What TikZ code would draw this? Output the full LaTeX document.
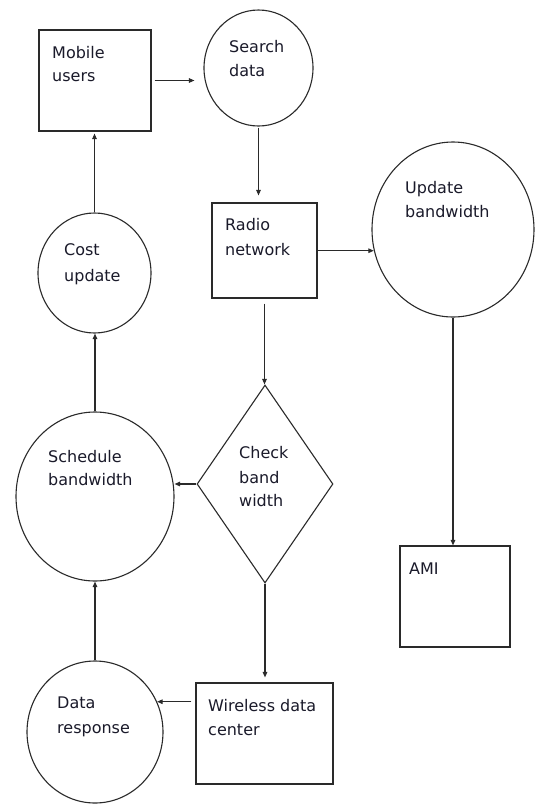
\documentclass[tikz,border=0pt]{standalone}
\usepackage{fontspec}
\setmainfont{DejaVu Sans}
\usetikzlibrary{shapes.geometric,arrows.meta}
\definecolor{ln}{HTML}{2A2A2A}
\definecolor{tx}{HTML}{1A1A2A}
\begin{document}
\begin{tikzpicture}[x=1pt,y=-1pt,
  shp/.style={draw=ln,line width=1.1pt,inner sep=0pt,fill=white},
  boxn/.style={shp,rectangle},
  ell/.style={shp,ellipse},
  dia/.style={shp,diamond},
  lbl/.style={anchor=base west,inner sep=0pt,text=tx,font=\fontsize{16}{24}\selectfont},
  arr/.style={draw=ln,line width=1.1pt,-{Triangle[length=5.5pt,width=4.5pt]}}]
\useasboundingbox[fill=white] (0,0) rectangle (535,804);
% shapes
\node[boxn,minimum width=112pt,minimum height=101pt] (mobile) at (95,80.5) {};
\node[ell,minimum width=109pt,minimum height=116pt] (search) at (258.5,68) {};
\node[boxn,minimum width=105pt,minimum height=95pt] (radio) at (264.5,250.5) {};
\node[ell,minimum width=162pt,minimum height=175pt] (update) at (453,229.5) {};
\node[boxn,minimum width=110pt,minimum height=101pt] (ami) at (455,596.5) {};
\node[dia,minimum width=136pt,minimum height=198pt] (check) at (265,484) {};
\node[ell,minimum width=158pt,minimum height=169pt] (schedule) at (95,496.5) {};
\node[ell,minimum width=113pt,minimum height=120pt] (cost) at (94.5,273) {};
\node[boxn,minimum width=137pt,minimum height=101pt] (wireless) at (264.5,733.5) {};
\node[ell,minimum width=136pt,minimum height=142pt] (data) at (95,732) {};
% labels
\node[lbl] (tmob1) at (52,58) {Mobile};
\node[lbl] (tmob2) at (52,81) {users};
\node[lbl] (tsea1) at (229,52) {Search};
\node[lbl] (tsea2) at (229,76) {data};
\node[lbl] (trad1) at (225,230) {Radio};
\node[lbl] (trad2) at (225,255) {network};
\node[lbl] (tupd1) at (405,193) {Update};
\node[lbl] (tupd2) at (405,217) {bandwidth};
\node[lbl] (tcos1) at (64,255) {Cost};
\node[lbl] (tcos2) at (64,281) {update};
\node[lbl] (tsch1) at (48,462) {Schedule};
\node[lbl] (tsch2) at (48,485) {bandwidth};
\node[lbl] (tchk1) at (239,458) {Check};
\node[lbl] (tchk2) at (239,483) {band};
\node[lbl] (tchk3) at (239,506) {width};
\node[lbl] (tdat1) at (57,708) {Data};
\node[lbl] (tdat2) at (57,733) {response};
\node[lbl] (twir1) at (208,711) {Wireless data};
\node[lbl] (twir2) at (208,735) {center};
\node[lbl] (tami) at (409,574) {AMI};
% connectors
\draw[arr,shorten <=3pt,shorten >=9pt] (mobile.east) -- (mobile.east -| search.west);
\draw[arr,shorten <=1pt,shorten >=7pt] (search.south) -- (search.south |- radio.north);
\draw[arr] (radio.east |- update.195) -- (update.195);
\draw[arr,shorten <=5pt] (radio.south) -- (radio.south |- check.north);
\draw[arr] (check.west) -- (check.west -| schedule.east);
\draw[arr] (schedule.north) -- (schedule.north |- cost.south);
\draw[arr,shorten >=2pt] (cost.north) -- (cost.north |- mobile.south);
\draw[arr,shorten >=5pt] (check.south) -- (check.south |- wireless.north);
\draw[arr,shorten <=4pt] (wireless.west |- data.26) -- (data.26);
\draw[arr] (data.north) -- (data.north |- schedule.south);
\draw[arr] (update.south) -- (update.south |- ami.north);
\end{tikzpicture}
\end{document}
